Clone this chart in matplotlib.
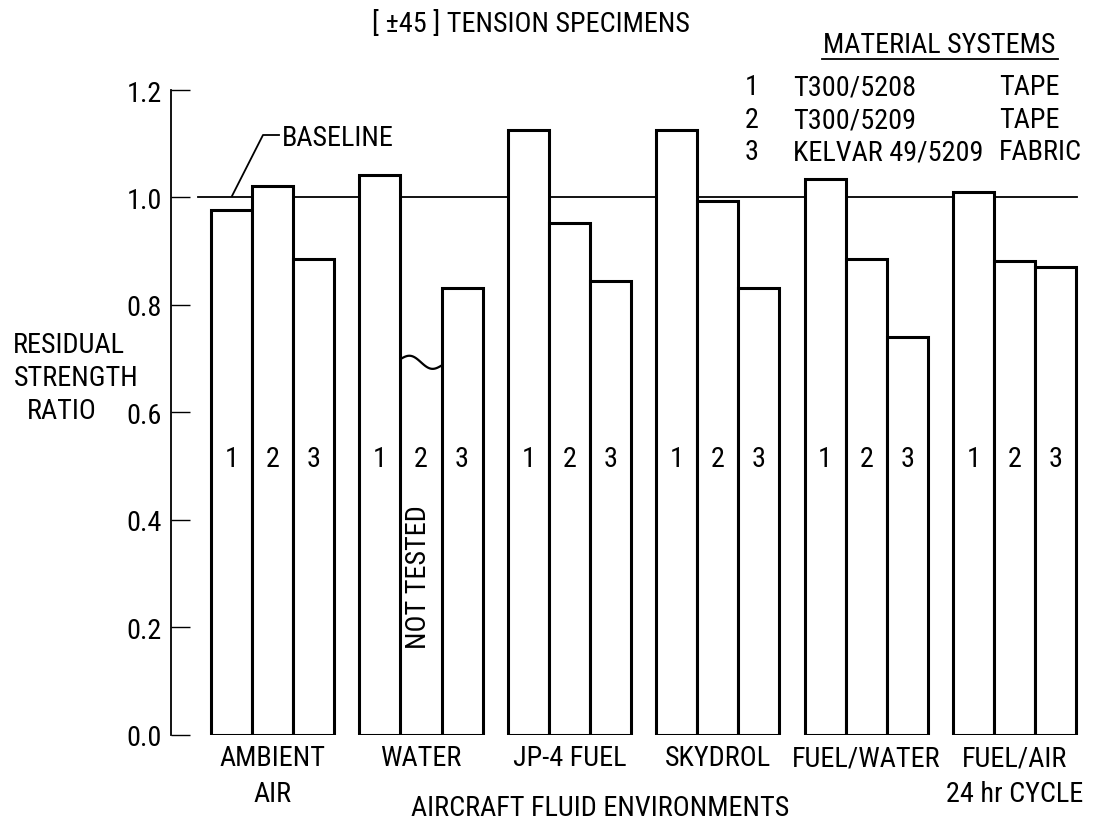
import numpy as np
import matplotlib
matplotlib.use("Agg")
import matplotlib.pyplot as plt
from matplotlib.lines import Line2D
from matplotlib import font_manager as fm

# ---------------- data ----------------
categories = ["AMBIENT\nAIR", "WATER", "JP-4 FUEL", "SKYDROL", "FUEL/WATER", "FUEL/AIR\n24 hr CYCLE"]
mat1 = [0.977, 1.041, 1.125, 1.125, 1.035, 1.011]   # T300/5208 tape
mat2 = [1.022, np.nan, 0.953, 0.994, 0.886, 0.881]  # T300/5209 tape (water: not tested)
mat3 = [0.886, 0.831, 0.844, 0.831, 0.741, 0.870]   # Kelvar 49/5209 fabric
series_ids = ["1", "2", "3"]
sys_names = ["T300/5208", "T300/5209", "KELVAR 49/5209"]
sys_forms = ["TAPE", "TAPE", "FABRIC"]
yticks = [0.0, 0.2, 0.4, 0.6, 0.8, 1.0, 1.2]
ytick_labels = ["0.0", "0.2", "0.4", "0.6", "0.8", "1.0", "1.2"]
baseline_value = 1.0
not_tested_level = 0.699

# ---------------- font choice: prefer a condensed sans ----------------
entries = fm.fontManager.ttflist
names = {e.name for e in entries}
family, stretch = None, 'normal'
for cand in ['Liberation Sans Narrow', 'Roboto Condensed', 'Noto Sans Condensed',
             'Open Sans Condensed', 'DejaVu Sans Condensed', 'Noto Sans SemiCondensed']:
    if cand in names:
        family = cand
        break
if family is None:
    for pref in ['DejaVu Sans', 'Noto Sans', 'Open Sans', 'Roboto']:
        hits = [e for e in entries if e.name == pref and e.style == 'normal'
                and str(e.stretch) in ('condensed', 'semi-condensed', 'extra-condensed')]
        if hits:
            family, stretch = pref, str(hits[0].stretch)
            break
if family is None:
    family = 'Roboto'

plt.rcParams['font.family'] = [family, 'DejaVu Sans']
plt.rcParams['font.stretch'] = stretch
FS = 20.3
plt.rcParams['font.size'] = FS
CAP = 0.5 * 0.71 * FS * 100 / 72  # half cap height in px

W, H = 1101, 828
fig = plt.figure(figsize=(W / 100, H / 100), dpi=100)


def fx(px):
    return px / W


def fy(py):
    return 1 - py / H


ax = fig.add_axes([fx(171), fy(735.5), fx(1090) - fx(171), fy(91) - fy(735.5)])
ax.set_xlim(-0.6846, 5.508)
ax.set_ylim(0, 1.2)

x = np.arange(len(categories))
w = 0.2763
offsets = [-w, 0.0, w]
label_level = 0.513
bar_lw = 2.2

for sid, series, off in zip(series_ids, [mat1, mat2, mat3], offsets):
    vals = np.array(series, float)
    ok = ~np.isnan(vals)
    ax.bar(x[ok] + off, vals[ok], width=w, facecolor='white', edgecolor='black',
           linewidth=bar_lw, zorder=3)
    for xi in x:
        ax.text(xi + off, label_level, sid, ha='center', va='center', zorder=5)

# not-tested bar (water, material 2)
for xi, v in zip(x, mat2):
    if np.isnan(v):
        left, right = xi - w / 2, xi + w / 2
        ax.plot([left, right], [0, 0], color='black', lw=bar_lw, zorder=4,
                solid_capstyle='butt')
        t = np.linspace(0, 1, 60)
        yy = not_tested_level - 0.012 * t + 0.009 * np.sin(2 * np.pi * t)
        ax.plot(left + (right - left) * t, yy, color='black', lw=1.6, zorder=4)
        ax.text(xi - 0.02, 0.295, "NOT TESTED", rotation=90, ha='center', va='center',
                zorder=5)

# baseline
ax.axhline(baseline_value, xmin=(198 - 171) / 919, xmax=(1077 - 171) / 919,
           color='black', lw=1.3, zorder=2)

# axes styling
for s in ['top', 'right', 'bottom']:
    ax.spines[s].set_visible(False)
ax.spines['left'].set_linewidth(1.3)
ax.set_yticks(yticks, ytick_labels)
ax.tick_params(axis='y', direction='in', length=13.7, width=1.0, pad=6.5, labelsize=FS)
ax.set_xticks(x, categories)
ax.tick_params(axis='x', length=0, pad=7.0, labelsize=FS)
for lab in ax.get_xticklabels():
    lab.set_linespacing(1.4)

# title
fig.text(fx(372), fy(22 + CAP), "[ ±45 ] TENSION SPECIMENS", ha='left', va='baseline')

# legend block
fig.text(fx(823), fy(43 + CAP), "MATERIAL SYSTEMS", ha='left', va='baseline')
fig.add_artist(Line2D([fx(822), fx(1058)], [fy(60), fy(60)], color='black', lw=1.3))
for sid, name, form, yc in zip(series_ids, sys_names, sys_forms, [85, 118, 150]):
    fig.text(fx(752), fy(yc + CAP), sid, ha='center', va='baseline')
    fig.text(fx(793), fy(yc + CAP), name, ha='left', va='baseline')
    fig.text(fx(999), fy(yc + CAP), form, ha='left', va='baseline')

# baseline annotation
fig.text(fx(282), fy(136 + CAP), "BASELINE", ha='left', va='baseline')
fig.add_artist(Line2D([fx(279), fx(263), fx(232)], [fy(136), fy(136), fy(197)],
                      color='black', lw=1.3))

# y label
fig.text(fx(13), fy(343 + CAP), "RESIDUAL", ha='left', va='baseline')
fig.text(fx(14), fy(376 + CAP), "STRENGTH", ha='left', va='baseline')
fig.text(fx(27), fy(409 + CAP), "RATIO", ha='left', va='baseline')

# x label
fig.text(fx(600), fy(806 + CAP), "AIRCRAFT FLUID ENVIRONMENTS", ha='center', va='baseline')

fig.savefig("out.png", dpi=100)
